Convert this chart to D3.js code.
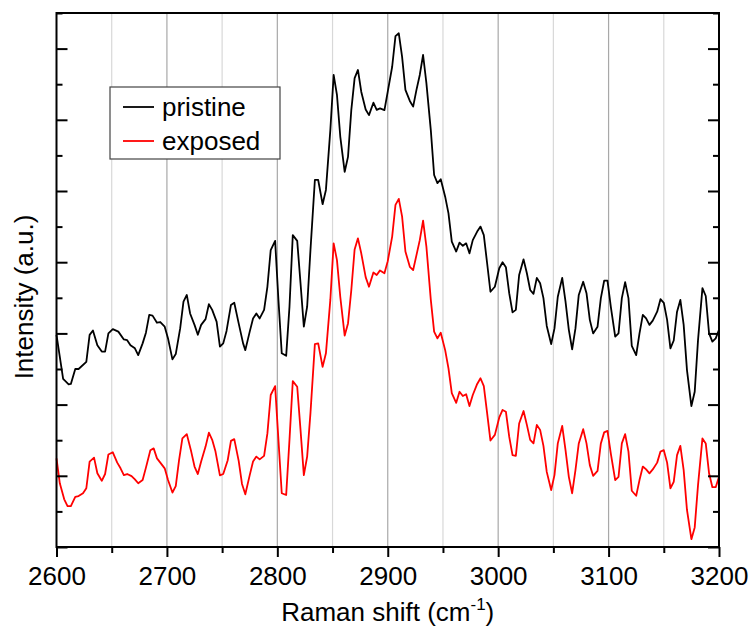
<!DOCTYPE html>
<html>
<head>
<meta charset="utf-8">
<script src="https://cdn.jsdelivr.net/npm/d3@7/dist/d3.min.js"></script>
<style>
  body { margin: 0; background: #fff; }
  text { font-family: 'Liberation Sans', Arial, sans-serif; }
</style>
</head>
<body>
<div id="app"></div>
<script>
// Raman shift (cm-1), one array per trace
const shiftPristine = [2600, 2606, 2611, 2613, 2617, 2620, 2627, 2630, 2633, 2637, 2641, 2644, 2647, 2651, 2656,
  2661, 2664, 2667, 2671, 2674, 2678, 2681, 2684, 2687, 2691, 2694, 2698, 2701, 2705, 2708, 2712, 2715, 2718,
  2721, 2725, 2728, 2731, 2735, 2738, 2741, 2745, 2748, 2751, 2754, 2758, 2761, 2765, 2769, 2771, 2775, 2778,
  2781, 2784, 2788, 2791, 2794, 2798, 2801, 2804, 2808, 2811, 2814, 2818, 2821, 2824, 2827, 2830, 2834, 2837,
  2841, 2844, 2848, 2851, 2854, 2857, 2861, 2864, 2867, 2870, 2873, 2876, 2880, 2883, 2887, 2890, 2893, 2897,
  2900, 2904, 2907, 2910, 2913, 2916, 2920, 2923, 2926, 2929, 2932, 2935, 2939, 2942, 2945, 2948, 2952, 2955,
  2958, 2962, 2965, 2968, 2971, 2974, 2977, 2981, 2984, 2987, 2990, 2993, 2997, 3001, 3004, 3007, 3010, 3013,
  3016, 3019, 3023, 3026, 3029, 3032, 3035, 3038, 3041, 3044, 3048, 3051, 3054, 3058, 3061, 3064, 3067, 3070,
  3073, 3077, 3080, 3083, 3086, 3090, 3093, 3096, 3099, 3102, 3106, 3109, 3112, 3115, 3118, 3121, 3125, 3128,
  3131, 3134, 3137, 3140, 3144, 3147, 3150, 3153, 3156, 3159, 3162, 3165, 3168, 3171, 3175, 3178, 3181, 3185,
  3188, 3191, 3194, 3197, 3200];
const pristine = [596, 472, 457, 458, 500, 500, 520, 596, 608, 567, 549, 549, 600, 612, 605,
  583, 581, 567, 558, 539, 572, 602, 652, 650, 630, 632, 619, 586, 527, 542, 614, 689, 708,
  656, 624, 596, 624, 640, 682, 666, 633, 563, 572, 607, 680, 686, 628, 572, 553, 605, 642,
  656, 642, 666, 731, 834, 860, 694, 544, 537, 675, 876, 860, 741, 619, 675, 834, 1031, 1031,
  963, 1003, 1171, 1326, 1270, 1153, 1054, 1096, 1228, 1317, 1340, 1279, 1229, 1213, 1248, 1228, 1232, 1227,
  1279, 1349, 1435, 1443, 1377, 1284, 1253, 1237, 1284, 1326, 1382, 1303, 1171, 1045, 1022, 1033, 984, 937,
  858, 830, 855, 846, 853, 825, 862, 886, 900, 876, 797, 717, 731, 783, 800, 786, 713, 659,
  666, 764, 808, 769, 722, 711, 756, 741, 699, 621, 570, 614, 703, 756, 689, 610, 555, 614,
  708, 745, 713, 638, 600, 619, 699, 748, 748, 675, 591, 600, 699, 744, 699, 565, 539, 600,
  652, 642, 624, 636, 661, 696, 686, 638, 558, 580, 661, 694, 624, 497, 396, 436, 581, 727,
  705, 600, 577, 586, 610];

const shiftExposed = [2600, 2603, 2607, 2610, 2613, 2617, 2620, 2624, 2627, 2630, 2634, 2637, 2641, 2644, 2647,
  2651, 2655, 2658, 2661, 2664, 2668, 2671, 2674, 2678, 2681, 2685, 2688, 2691, 2694, 2698, 2701, 2705, 2708,
  2711, 2714, 2718, 2722, 2725, 2728, 2731, 2735, 2738, 2741, 2744, 2748, 2751, 2755, 2758, 2761, 2765, 2768,
  2771, 2775, 2778, 2781, 2784, 2788, 2791, 2794, 2798, 2801, 2804, 2808, 2811, 2814, 2818, 2821, 2824, 2827,
  2830, 2834, 2837, 2841, 2844, 2848, 2851, 2854, 2857, 2861, 2864, 2867, 2870, 2873, 2876, 2880, 2883, 2887,
  2890, 2893, 2897, 2900, 2904, 2907, 2910, 2913, 2916, 2920, 2923, 2926, 2929, 2932, 2935, 2939, 2942, 2945,
  2948, 2952, 2955, 2958, 2962, 2965, 2968, 2971, 2974, 2977, 2981, 2984, 2987, 2990, 2993, 2997, 3001, 3004,
  3007, 3010, 3013, 3016, 3019, 3023, 3026, 3029, 3032, 3035, 3038, 3041, 3044, 3048, 3051, 3054, 3058, 3061,
  3064, 3067, 3070, 3073, 3077, 3080, 3083, 3086, 3090, 3093, 3096, 3099, 3102, 3106, 3109, 3112, 3115, 3118,
  3121, 3125, 3128, 3131, 3134, 3137, 3140, 3144, 3147, 3150, 3153, 3156, 3159, 3162, 3165, 3168, 3171, 3175,
  3178, 3181, 3185, 3188, 3191, 3194, 3197, 3200];
const exposed = [249, 179, 134, 115, 115, 141, 143, 151, 165, 240, 251, 207, 186, 205, 260,
  266, 237, 221, 202, 205, 199, 190, 179, 188, 223, 272, 277, 249, 237, 221, 188, 153, 171,
  244, 305, 317, 268, 226, 205, 240, 282, 321, 301, 268, 201, 205, 243, 298, 303, 242, 177,
  148, 202, 240, 254, 246, 256, 319, 427, 452, 301, 151, 146, 301, 466, 450, 329, 202, 254,
  376, 570, 572, 506, 544, 694, 853, 806, 703, 594, 628, 722, 836, 867, 825, 758, 731, 771,
  764, 777, 769, 803, 872, 961, 978, 928, 830, 787, 778, 820, 862, 917, 844, 694, 605, 586,
  602, 553, 502, 432, 405, 436, 424, 429, 396, 427, 458, 474, 452, 376, 299, 315, 364, 385,
  380, 310, 258, 256, 347, 382, 343, 301, 291, 343, 329, 284, 211, 160, 202, 291, 340, 272,
  197, 151, 216, 291, 331, 291, 230, 200, 214, 291, 322, 326, 263, 188, 197, 291, 317, 268,
  158, 144, 188, 226, 218, 207, 218, 237, 268, 272, 237, 165, 183, 258, 284, 216, 104, 22,
  55, 174, 305, 291, 207, 168, 168, 197];

const seriesNames = ['pristine', 'exposed'];
const seriesColors = ['#000000', '#ff0000'];
const xTicks = [2600, 2650, 2700, 2750, 2800, 2850, 2900, 2950, 3000, 3050, 3100, 3150, 3200];
const yTicks = [0, 100, 200, 300, 400, 500, 600, 700, 800, 900, 1000, 1100, 1200, 1300, 1400, 1500];

// Layout
const width = 751;
const height = 633;
const margin = ({ top: 13, right: 32, bottom: 86, left: 56.5 });
const plotWidth = width - margin.left - margin.right;
const plotHeight = height - margin.top - margin.bottom;

const svg = d3.select('#app')
  .append('svg')
  .attr('width', width)
  .attr('height', height);

const plot = svg.append('g')
  .attr('transform', `translate(${margin.left}, ${margin.top})`);

const xScale = d3.scaleLinear()
  .domain([2600, 3200])
  .range([0, plotWidth]);

const yScale = d3.scaleLinear()
  .domain([0, 1500])
  .range([plotHeight, 0]);

// vertical grid, darker on the hundreds
plot.append('g')
  .selectAll('line')
  .data(xTicks.slice(1, -1))
  .join('line')
  .attr('x1', (d) => xScale(d))
  .attr('x2', (d) => xScale(d))
  .attr('y1', 0)
  .attr('y2', plotHeight)
  .attr('stroke', (d) => (d % 100 === 0 ? '#a8a8a8' : '#d8d8d8'))
  .attr('stroke-width', 1.2);

// Lines
const traces = [
  { x: shiftPristine, y: pristine },
  { x: shiftExposed, y: exposed },
];
const line = d3.line()
  .x((d) => xScale(d[0]))
  .y((d) => yScale(d[1]));

traces.forEach((t, i) => {
  plot.append('path')
    .datum(t.x.map((v, j) => [v, t.y[j]]))
    .attr('fill', 'none')
    .attr('stroke', seriesColors[i])
    .attr('stroke-width', 1.8)
    .attr('stroke-linejoin', 'round')
    .attr('d', line);
});

// Axes
function styleAxis(g) {
  g.select('.domain').remove();
  g.selectAll('line').attr('stroke', '#000').attr('stroke-width', 2);
  g.selectAll('text')
    .attr('font-size', 26)
    .attr('fill', '#000')
    .attr('font-family', "'Liberation Sans', Arial, sans-serif");
}

const xMajor = xTicks.filter((d) => d % 100 === 0);
const xMinor = xTicks.filter((d) => d % 100 !== 0);
plot.append('g')
  .attr('transform', `translate(0, ${plotHeight})`)
  .call(d3.axisBottom(xScale).tickValues(xMajor).tickSize(10).tickPadding(10).tickFormat(d3.format('d')))
  .call(styleAxis);
plot.append('g')
  .attr('transform', `translate(0, ${plotHeight})`)
  .call(d3.axisBottom(xScale).tickValues(xMinor).tickSize(6).tickFormat(''))
  .call(styleAxis);

const yMajor = yTicks.filter((d) => d % 200 === 0);
const yMinor = yTicks.filter((d) => d % 200 !== 0);
[[0, d3.axisRight], [plotWidth, d3.axisLeft]].forEach(([xPos, axisFn]) => {
  plot.append('g')
    .attr('transform', `translate(${xPos}, 0)`)
    .call(axisFn(yScale).tickValues(yMajor).tickSize(11).tickFormat(''))
    .call(styleAxis);
  plot.append('g')
    .attr('transform', `translate(${xPos}, 0)`)
    .call(axisFn(yScale).tickValues(yMinor).tickSize(6).tickFormat(''))
    .call(styleAxis);
});

// frame
plot.append('rect')
  .attr('x', 0)
  .attr('y', 0)
  .attr('width', plotWidth)
  .attr('height', plotHeight)
  .attr('fill', 'none')
  .attr('stroke', '#000')
  .attr('stroke-width', 2);

// Labels
const xLabel = svg.append('text')
  .attr('x', margin.left + plotWidth / 2)
  .attr('y', 621)
  .attr('text-anchor', 'middle')
  .attr('font-size', 26);
xLabel.append('tspan').text('Raman shift (cm');
xLabel.append('tspan').attr('font-size', 17).attr('dy', -11).text('-1');
xLabel.append('tspan').attr('dy', 11).text(')');

svg.append('text')
  .attr('transform', 'rotate(-90)')
  .attr('x', -297)
  .attr('y', 33)
  .attr('text-anchor', 'middle')
  .attr('font-size', 26)
  .text('Intensity (a.u.)');

// Legend
const legend = svg.append('g')
  .attr('transform', 'translate(110, 87)');
legend.append('rect')
  .attr('width', 170)
  .attr('height', 72)
  .attr('fill', '#fff')
  .attr('stroke', '#444')
  .attr('stroke-width', 1.2);
seriesNames.forEach((name, i) => {
  const cy = 20 + i * 34;
  legend.append('line')
    .attr('x1', 13)
    .attr('x2', 44)
    .attr('y1', cy)
    .attr('y2', cy)
    .attr('stroke', seriesColors[i])
    .attr('stroke-width', 1.8);
  legend.append('text')
    .attr('x', 52)
    .attr('y', cy + 9)
    .attr('font-size', 26)
    .text(name);
});
</script>
</body>
</html>
